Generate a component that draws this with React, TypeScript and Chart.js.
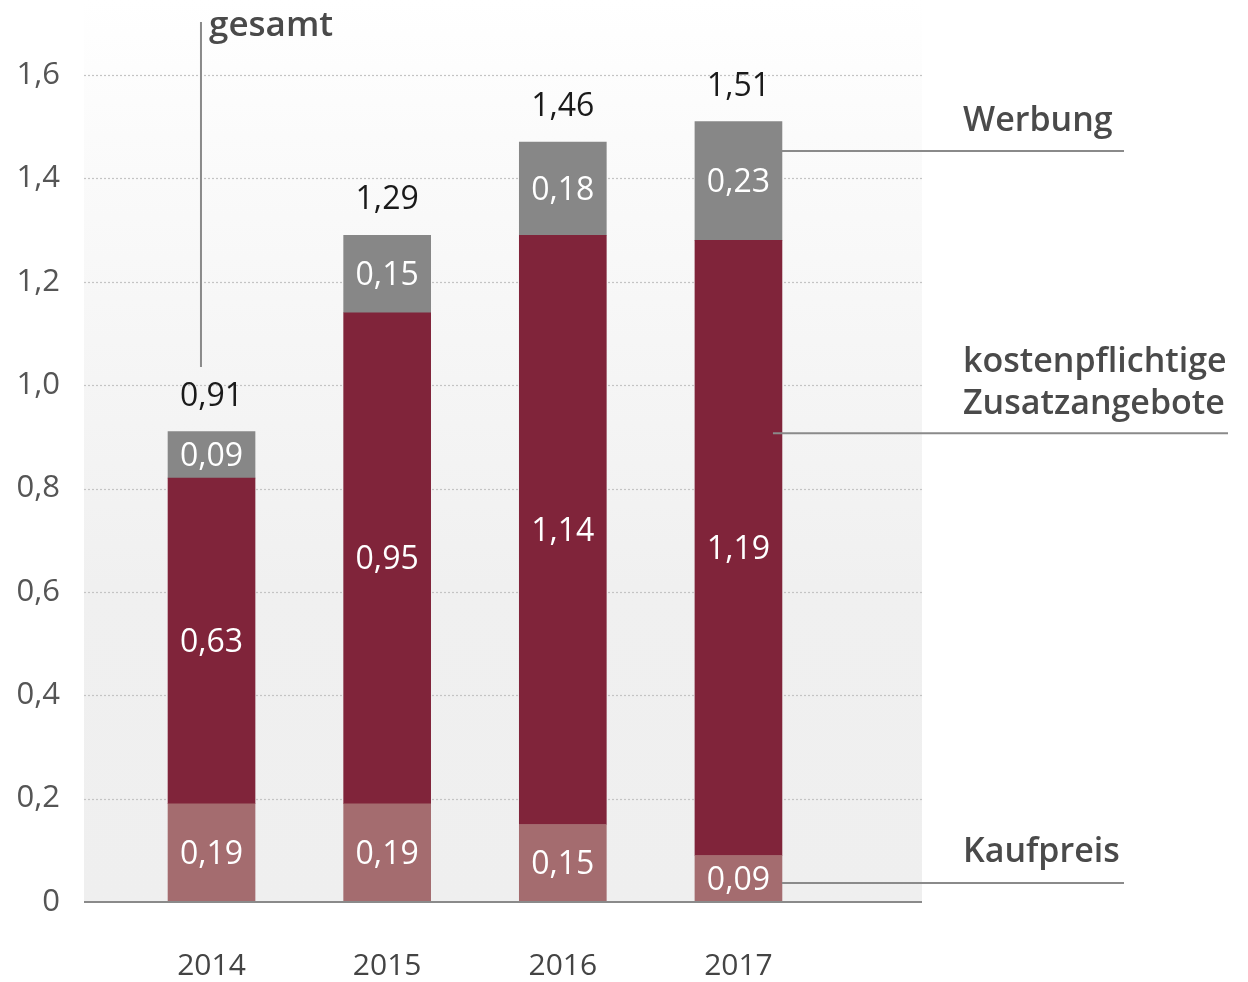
import React, { useEffect, useRef } from "react";
import { Chart, registerables } from "chart.js";

Chart.register(...registerables);

const years = [2014, 2015, 2016, 2017];
const kaufpreis = [0.19, 0.19, 0.15, 0.09];
const zusatzangebote = [0.63, 0.95, 1.14, 1.19];
const werbung = [0.09, 0.15, 0.18, 0.23];
const gesamt = [0.91, 1.29, 1.46, 1.51];
const yTicks = [0, 0.2, 0.4, 0.6, 0.8, 1.0, 1.2, 1.4, 1.6];

const FONT = "'Open Sans', 'Noto Sans', sans-serif";
const fmt = (v: number) => (v === 0 ? "0" : v.toFixed(2).replace(".", ","));
const fmtTick = (v: number) => (v === 0 ? "0" : v.toFixed(1).replace(".", ","));

const decoPlugin = {
  id: "deco",
  beforeDraw(chart: any) {
    const { ctx, chartArea } = chart;
    const g = ctx.createLinearGradient(0, 0, 0, chartArea.bottom);
    g.addColorStop(0, "#ffffff");
    g.addColorStop(0.15, "#fbfbfb");
    g.addColorStop(0.65, "#f0f0f0");
    g.addColorStop(1, "#efefef");
    ctx.save();
    ctx.fillStyle = g;
    ctx.fillRect(chartArea.left, 0, chartArea.right - chartArea.left, chartArea.bottom);
    ctx.restore();
  },
  beforeDatasetsDraw(chart: any) {
    const { ctx, chartArea, scales } = chart;
    ctx.save();
    ctx.strokeStyle = "#c4c4c4";
    ctx.lineWidth = 1.2;
    ctx.setLineDash([2, 2]);
    yTicks.forEach((t) => {
      if (t === 0) return;
      const y = Math.round(scales.y.getPixelForValue(t)) + 0.5;
      ctx.beginPath();
      ctx.moveTo(chartArea.left, y);
      ctx.lineTo(chartArea.right, y);
      ctx.stroke();
    });
    ctx.restore();
  },
  afterDatasetsDraw(chart: any) {
    const { ctx, chartArea, scales } = chart;
    const xs = scales.x;
    const ys = scales.y;
    ctx.save();
    // baseline
    ctx.strokeStyle = "#8a8a8a";
    ctx.lineWidth = 2;
    const y0 = ys.getPixelForValue(0);
    ctx.beginPath();
    ctx.moveTo(chartArea.left, y0);
    ctx.lineTo(chartArea.right, y0);
    ctx.stroke();

    // segment labels
    ctx.textAlign = "center";
    ctx.textBaseline = "middle";
    ctx.font = `400 32px ${FONT}`;
    ctx.fillStyle = "#ffffff";
    chart.data.datasets.forEach((ds: any, di: number) => {
      const meta = chart.getDatasetMeta(di);
      meta.data.forEach((bar: any, i: number) => {
        const p = bar.getProps(["x", "y", "base"], true);
        ctx.fillText(fmt(ds.data[i].y), p.x, (p.y + p.base) / 2 + 2);
      });
    });

    // totals
    const topMeta = chart.getDatasetMeta(chart.data.datasets.length - 1);
    ctx.fillStyle = "#1a1a1a";
    topMeta.data.forEach((bar: any, i: number) => {
      const p = bar.getProps(["x", "y"], true);
      ctx.fillText(fmt(gesamt[i]), p.x, p.y - 35);
    });

    // leader lines
    ctx.strokeStyle = "#8a8a8a";
    ctx.lineWidth = 2;
    const line = (x1: number, y1: number, x2: number, y2: number) => {
      ctx.beginPath();
      ctx.moveTo(x1, y1);
      ctx.lineTo(x2, y2);
      ctx.stroke();
    };
    const gx = xs.getPixelForValue(2013.94);
    line(gx, 22, gx, ys.getPixelForValue(1.035));
    const lastBar = topMeta.data[3].getProps(["x", "width"], true);
    const barRight = lastBar.x + lastBar.width / 2;
    line(barRight, ys.getPixelForValue(1.453), 1124, ys.getPixelForValue(1.453));
    line(barRight - 9, ys.getPixelForValue(0.907), 1228, ys.getPixelForValue(0.907));
    line(barRight, ys.getPixelForValue(0.037), 1124, ys.getPixelForValue(0.037));

    // annotation texts
    ctx.textAlign = "left";
    ctx.fillStyle = "#4a4a4a";
    ctx.font = `600 35px ${FONT}`;
    ctx.fillText("gesamt", gx + 8, 26);
    ctx.font = `600 34px ${FONT}`;
    ctx.fillText("Werbung", 963, 121);
    ctx.fillText("kostenpflichtige", 963, 362);
    ctx.fillText("Zusatzangebote", 963, 404);
    ctx.fillText("Kaufpreis", 963, 852);
    ctx.restore();
  },
};

export default function App() {
  const ref = useRef<HTMLCanvasElement | null>(null);
  useEffect(() => {
    document.body.style.margin = "0";
    if (!ref.current) return;
    const mk = (arr: number[]) => years.map((yr, i) => ({ x: yr, y: arr[i] }));
    const chart = new Chart(ref.current, {
      type: "bar",
      data: {
        datasets: [
          { label: "Kaufpreis", data: mk(kaufpreis), backgroundColor: "#a46c6f", barThickness: 87 },
          { label: "kostenpflichtige Zusatzangebote", data: mk(zusatzangebote), backgroundColor: "#80243a", barThickness: 87 },
          { label: "Werbung", data: mk(werbung), backgroundColor: "#878787", barThickness: 87 },
        ],
      } as any,
      options: {
        animation: false,
        responsive: false,
        layout: { padding: { top: 75, right: 326, left: 0, bottom: 0 } },
        plugins: { legend: { display: false }, tooltip: { enabled: false } },
        scales: {
          x: {
            type: "linear",
            stacked: true,
            offset: false,
            min: 2013.274,
            max: 2018.045,
            grid: { display: false, drawTicks: false, offset: false },
            border: { display: false },
            afterBuildTicks: (s: any) => {
              s.ticks = years.map((v) => ({ value: v }));
            },
            afterFit: (s: any) => {
              s.height = 80;
            },
            ticks: {
              padding: 46,
              color: "#444444",
              font: { family: FONT, size: 30 },
              callback: (v: any) => String(v),
            },
          },
          y: {
            stacked: true,
            min: 0,
            max: 1.6,
            grid: { display: false, drawTicks: false },
            border: { display: false },
            afterBuildTicks: (s: any) => {
              s.ticks = yTicks.map((v) => ({ value: v }));
            },
            afterFit: (s: any) => {
              s.width = 84;
            },
            ticks: {
              padding: 24,
              color: "#555555",
              font: { family: FONT, size: 31 },
              callback: (v: any) => fmtTick(Number(v)),
            },
          },
        },
      } as any,
      plugins: [decoPlugin],
    });
    return () => chart.destroy();
  }, []);
  return <canvas ref={ref} width={1248} height={982} style={{ display: "block" }} />;
}
